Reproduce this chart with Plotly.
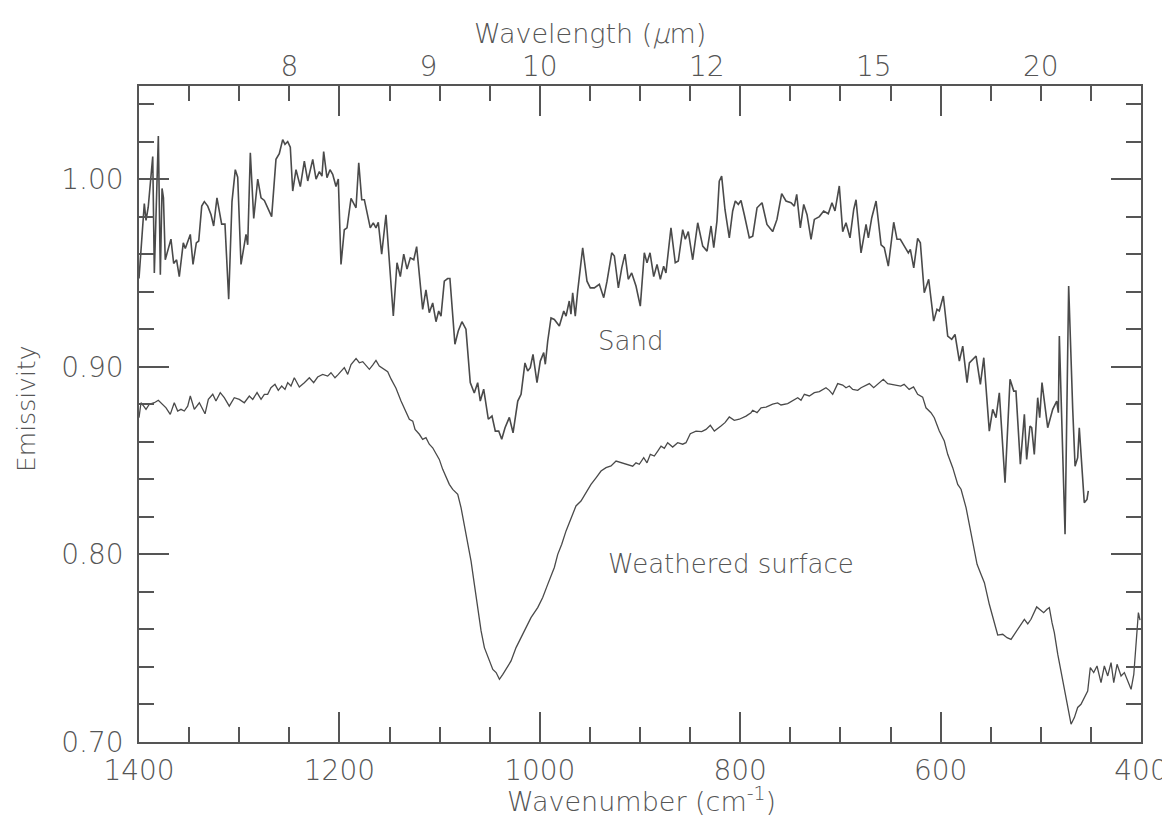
import plotly.graph_objects as go

# ---------------- data ----------------
sand_wavenumber = [
    1400, 1394.7, 1393, 1390.8, 1386.3, 1384.7, 1380.7, 1378.7, 1377, 1375.6, 1373.8, 1371.4, 1368.1, 1365.4,
    1362.5, 1359.8, 1355.8, 1353.8, 1351.4, 1348.8, 1346.1, 1342.8, 1340.4, 1337.4, 1334.8, 1331.4, 1328.1,
    1325.5, 1322.2, 1319.9, 1317.5, 1314.2, 1310.5, 1307.2, 1303.9, 1301.5, 1298.2, 1293.2, 1291.5, 1288.9,
    1285.5, 1281.5, 1278.2, 1274.9, 1271.6, 1267.6, 1263.3, 1260, 1256.6, 1254.3, 1251.6, 1249, 1246.6, 1243.3,
    1239, 1235, 1231.6, 1226.6, 1223.3, 1220, 1217.4, 1215.7, 1212.4, 1209.4, 1206.7, 1203.4, 1201.1, 1198.4,
    1195.1, 1192.4, 1188.4, 1185.7, 1183.4, 1180.7, 1177.7, 1175.1, 1171.8, 1169.2, 1166.2, 1163.5, 1161.2,
    1157.8, 1153.5,
    1146.2, 1142.5, 1139.2, 1135.8, 1132.5, 1129.2, 1125.8, 1122.9, 1116.9, 1113.6, 1110.3, 1106.9, 1103.6,
    1100.9, 1098.6, 1095.3, 1092, 1089.7, 1084.7, 1081.4, 1077.7, 1073.7, 1069.4, 1065.4, 1062, 1059.4, 1056,
    1051.4, 1047.7, 1044.4, 1041, 1038, 1034.7, 1030.4, 1026.7, 1022, 1018.7, 1014.8, 1012.1, 1009.5, 1006.8,
    1002.8, 999.5, 996.1, 994.5, 992.1, 988.8, 985.5, 980.5, 976.1, 973.8, 970.6, 968.9, 967.2, 964.6, 962.2,
    957.2, 952.9, 949.6, 945.6, 940.6, 936.2, 932.9, 928.2, 925.6, 921.6, 918.2, 915, 911.7, 908.3, 904, 899.7,
    895.7, 893, 890, 886.3, 883, 879.7, 876.4, 874.1, 869.1, 864.8, 861.8, 857.4, 854.8, 851.8, 847.4, 842.4,
    837.4, 833.1, 829.1, 826.4, 823.2, 820.9, 818.5, 815.2, 810.9, 807.5, 804.9, 801.9, 799.2, 795.9, 790.9,
    787.5, 783.2, 778.2, 773.3, 767.6, 763.3, 758.6, 754.3, 749.3, 746, 743.6, 740, 736.6, 733.3, 729.3, 726,
    721, 716.7, 712.1, 708.4, 705.4, 701.1, 697.7, 694.4, 690.4, 686.7, 684.4, 679.4, 674.4, 672.1, 668.7,
    664.4, 659.4, 656.2, 652.2,
    646.8, 643.5, 640.2, 636.2, 632.2, 630.2, 626.8, 622.9, 620.2, 616.3, 611.9, 606.9, 603.6, 601.3, 597.3,
    592.9, 588.9, 585.6, 581.3, 577.9, 573.6, 571.3, 567.9, 564.6, 560.3, 556.9, 551.4, 548, 544.7, 541.4,
    535.7, 530.7, 527, 524.8, 520.4, 516.4, 514.1, 510.8, 509.1, 506.5, 503.1, 501.1, 498.8, 493.1, 488.1,
    484.1, 482.5, 481.5, 475.8, 472.2, 468.2, 465.8, 463.2, 461.6, 456.6, 453.9, 452.6,
]
sand_emissivity = [
    0.947, 0.987, 0.978, 0.985, 1.012, 0.950, 1.023, 0.949, 0.995, 0.990, 0.957, 0.962, 0.968, 0.955,
    0.957, 0.948, 0.966, 0.963, 0.967, 0.9705, 0.9545, 0.966, 0.967, 0.9856, 0.988, 0.9856, 0.981,
    0.975, 0.990, 0.983, 0.976, 0.976, 0.936, 0.988, 1.005, 1.001, 0.9545, 0.9705, 0.965, 1.014,
    0.979, 1.000, 0.990, 0.9886, 0.9847, 0.980, 1.0105, 1.0135, 1.021, 1.0185, 1.020, 1.017, 0.9936, 1.005,
    0.996, 1.0096, 0.999, 1.0105, 1.000, 1.004, 1.0016, 1.0146, 1.0007, 1.005, 1.0025, 0.996, 1.000, 0.9545,
    0.973, 0.974, 0.9897, 0.987, 0.9847, 1.0087, 0.989, 0.989, 0.980, 0.974, 0.9767, 0.974, 0.977,
    0.960, 0.981,
    0.927, 0.9554, 0.948, 0.960, 0.952, 0.958, 0.957, 0.964, 0.9306, 0.941, 0.9288, 0.934, 0.924,
    0.9297, 0.927, 0.9456, 0.947, 0.947, 0.912, 0.919, 0.924, 0.920, 0.8915, 0.886, 0.8915, 0.8817, 0.888,
    0.872, 0.8737, 0.8657, 0.8657, 0.8613, 0.8675, 0.873, 0.8648, 0.8817, 0.8853, 0.902, 0.8977, 0.8995, 0.9066,
    0.8915, 0.903, 0.9075, 0.9013, 0.9137, 0.926, 0.9252, 0.9217, 0.9297, 0.927, 0.935, 0.928, 0.9394, 0.927, 0.9403,
    0.9634, 0.9456, 0.942, 0.942, 0.9439, 0.9368, 0.9456, 0.9607, 0.959, 0.942, 0.9527, 0.960, 0.9466, 0.950, 0.943, 0.9323,
    0.9607, 0.9554, 0.9607, 0.948, 0.9545, 0.9466, 0.9536, 0.950, 0.974, 0.9554, 0.9563, 0.973, 0.9679, 0.972, 0.957, 0.9767,
    0.9643, 0.9616, 0.975, 0.9634, 0.9776, 0.9989, 1.0016, 0.9838, 0.9687, 0.983, 0.9883, 0.9865, 0.9886, 0.981, 0.9687,
    0.9696, 0.9847, 0.9874, 0.9758, 0.972, 0.9785, 0.9922, 0.9883, 0.9874, 0.9856, 0.9918, 0.974, 0.9865, 0.981, 0.9679, 0.9785,
    0.980, 0.983, 0.9815, 0.9874, 0.983, 0.9963, 0.972, 0.9767, 0.9687, 0.9838, 0.989, 0.9607, 0.9758, 0.9687, 0.9794,
    0.9883, 0.965, 0.9634, 0.9536,
    0.977, 0.9679, 0.9679, 0.9643, 0.9607, 0.9625, 0.9527, 0.9684, 0.966, 0.9394, 0.9466, 0.9243, 0.9306, 0.9297, 0.9377,
    0.9163, 0.9146, 0.9172, 0.903, 0.911, 0.8915, 0.902, 0.9039, 0.9057, 0.8906, 0.9048, 0.8657, 0.8773, 0.8728, 0.8861,
    0.8382, 0.8933, 0.887, 0.887, 0.848, 0.8746, 0.8506, 0.8684, 0.8675, 0.8533, 0.8835, 0.8728, 0.8915, 0.8675, 0.8773,
    0.8817, 0.8755, 0.9163, 0.8107, 0.943, 0.8781, 0.847, 0.8515, 0.8675, 0.8275, 0.8293, 0.8338,
]

weathered_wavenumber = [
    1400, 1398, 1395.3, 1393, 1389.7, 1384.7, 1380.7, 1376.3, 1373, 1368.8, 1364.8, 1361.4, 1358.1, 1354.8,
    1351.4, 1348.8, 1344.8, 1339.8, 1337.1, 1334.1, 1330.8, 1326.4, 1323.2, 1318.9, 1314.9, 1309.9, 1304.9,
    1299.9, 1294.9, 1289.9, 1286.5, 1282.2, 1278.2, 1274.9, 1271.6, 1268.3, 1264.3, 1261, 1257.6, 1254.3,
    1251.6, 1248.3, 1245, 1240, 1235, 1230, 1225.7, 1221.7, 1216.7, 1211.7, 1208.4, 1204.4, 1201.1, 1198.4,
    1195.1, 1191.7, 1188.4, 1183.4, 1180.1, 1176.7, 1170.1, 1166.8, 1163.5, 1160.2, 1155.2, 1151.8, 1148.5,
    1143.5, 1138.5,
    1133.5, 1130.2, 1126.8, 1124.5, 1120.2, 1116.9, 1113.6, 1110.3, 1106.9, 1103.6, 1100.3, 1096.9, 1093.6,
    1090.3, 1086.9, 1081.9, 1078.6, 1073.6, 1068.6, 1065.3, 1061.9, 1058.6, 1055.3, 1050.3, 1046.9, 1043.6,
    1040.3, 1036.9, 1033.7, 1028.7, 1023.7, 1018.7, 1013.8, 1008.8, 1002.1, 997.1, 992.1, 988.8, 985.5, 982.1,
    978.1, 973.8, 968.9, 963.9, 958.9, 953.9, 948.9, 943.9, 938.9, 933.9, 928.9, 923.9, 918.9, 912.2, 907.3,
    904, 900.7, 896.3, 893, 889.7, 885.7, 882.3, 879, 875.7, 872.4, 867.4, 862.4, 857.4, 854.1, 849.8, 844.1,
    838.4, 834.1, 829.8, 825.8, 819.2, 815.2, 810.9, 805.9, 800.9, 794.2, 789.2, 787.5, 783.2, 779.2, 774.2,
    767.6, 762.6, 759.3, 752.6, 747.6, 742.6, 739.3, 736, 731, 726, 721, 717.6, 714.4, 711.1, 707.7, 702.7,
    697.7, 694.4, 691.1, 687.7, 682.7, 679.4, 676.1, 671.1, 666.8, 662.8, 657.2, 652.8, 647.8,
    639.8, 636.4, 631.4, 627, 622.9, 617.9, 614.6, 609.6, 606.3, 601.3, 596.3, 592.9, 587.9, 582.9, 579.6,
    574.6, 571.3, 567.9, 563.6, 559.7, 556.3, 551.4, 547, 543, 538, 533.7, 529.7, 526.4, 521.4, 516.4, 513,
    509.8, 504.1, 500.5, 497.1, 493.8, 491.5, 488.8, 486.5, 483.1, 479.8, 476.5, 473.1, 469.8, 466.5, 463.2,
    459.9, 456.6, 453.2, 450.6, 447.2, 443.9, 439.9, 436.6, 433.2, 429.9, 427.2, 423.9, 419.9, 416.6, 413.2,
    409.9, 407.2, 404.9, 402.6, 401,
]
weathered_emissivity = [
    0.8728, 0.8808, 0.879, 0.8773, 0.880, 0.8808, 0.8821, 0.880, 0.8781, 0.8746, 0.8808, 0.8764, 0.8773, 0.8764,
    0.879, 0.8844, 0.8773, 0.8808, 0.8781, 0.8749, 0.8826, 0.8853, 0.8817, 0.8862, 0.8835, 0.879, 0.8835,
    0.8826, 0.8808, 0.8844, 0.8826, 0.8862, 0.8826, 0.8853, 0.8853, 0.8888, 0.8906, 0.8874, 0.8897, 0.8879,
    0.8915, 0.8897, 0.8941, 0.8892, 0.8915, 0.8941, 0.8915, 0.8945, 0.8959, 0.895, 0.8968, 0.8941, 0.8959, 0.8973,
    0.8995, 0.8959, 0.9012, 0.9044, 0.9021, 0.9027, 0.8986, 0.9009, 0.9034, 0.9004, 0.8986, 0.8973, 0.8935,
    0.8885, 0.8817,
    0.8755, 0.872, 0.871, 0.8666, 0.864, 0.8613, 0.8622, 0.8587, 0.8568, 0.8533, 0.8506, 0.8453, 0.8408,
    0.8373, 0.8346, 0.832, 0.8249, 0.8107, 0.7964, 0.784, 0.7716, 0.7592, 0.7503, 0.7432, 0.7387, 0.737,
    0.7334, 0.736, 0.7387, 0.7432, 0.7503, 0.7556, 0.761, 0.7663, 0.7716, 0.777, 0.784, 0.7885, 0.793, 0.800,
    0.8054, 0.8125, 0.8196, 0.8258, 0.8284, 0.8328, 0.8373, 0.8408, 0.8444, 0.8462, 0.8471, 0.8497, 0.8488, 0.848, 0.847,
    0.8488, 0.848, 0.8515, 0.8488, 0.8533, 0.8524, 0.855, 0.8577, 0.8565, 0.8595, 0.8572, 0.8595, 0.8587, 0.8595, 0.8643, 0.8657,
    0.8654, 0.8666, 0.8688, 0.8657, 0.8684, 0.8702, 0.8732, 0.8714, 0.872, 0.8737, 0.8755, 0.8768, 0.8755, 0.8781, 0.8785,
    0.880, 0.8807, 0.8796, 0.8803, 0.882, 0.8835, 0.8821, 0.8853, 0.8844, 0.8862, 0.8867, 0.8879, 0.8888, 0.8874, 0.8853, 0.891,
    0.8902, 0.8888, 0.8897, 0.8879, 0.8874, 0.8888, 0.8897, 0.891, 0.8888, 0.8906, 0.8933, 0.891, 0.8906,
    0.8897, 0.8906, 0.8879, 0.8892, 0.8853, 0.8838, 0.8781, 0.8755, 0.8728, 0.8657, 0.8604, 0.8533, 0.8462, 0.8373, 0.8347,
    0.8249, 0.816, 0.8054, 0.7947, 0.7894, 0.7849, 0.7734, 0.7645, 0.757, 0.7574, 0.7556, 0.7547, 0.7574, 0.761, 0.7654, 0.763,
    0.7654, 0.772, 0.7702, 0.7689, 0.7707, 0.7716, 0.7636, 0.7583, 0.7468, 0.737, 0.7273, 0.7184, 0.7095, 0.713, 0.7184,
    0.7201, 0.724, 0.7272, 0.7396, 0.737, 0.7405, 0.7316, 0.7405, 0.7352, 0.7423, 0.7316, 0.7414, 0.7352, 0.737, 0.7325,
    0.7281, 0.736, 0.7556, 0.769, 0.765,
]

wavelength_ticks_um = [8, 9, 10, 12, 15, 20]
x_range = [1400, 400]
y_range = [0.70, 1.0496]

# ---------------- style ----------------
INK = "#555555"
FONT = "DejaVu Sans Light, DejaVu Sans, sans-serif"

fig = go.Figure()
fig.add_trace(go.Scatter(x=sand_wavenumber, y=sand_emissivity, mode="lines",
                         line=dict(color="#4a4a4a", width=1.6), showlegend=False, hoverinfo="skip"))
fig.add_trace(go.Scatter(x=weathered_wavenumber, y=weathered_emissivity, mode="lines",
                         line=dict(color="#4a4a4a", width=1.3), showlegend=False, hoverinfo="skip"))
# empty traces so that the overlay axes exist
fig.add_trace(go.Scatter(x=[None], y=[None], xaxis="x2", yaxis="y", showlegend=False, hoverinfo="skip"))
fig.add_trace(go.Scatter(x=[None], y=[None], xaxis="x3", yaxis="y", showlegend=False, hoverinfo="skip"))
fig.add_trace(go.Scatter(x=[None], y=[None], xaxis="x", yaxis="y2", showlegend=False, hoverinfo="skip"))

tickfont = dict(family=FONT, size=28, color=INK)
common_x = dict(range=x_range, autorange=False, showgrid=False, zeroline=False, linecolor=INK, linewidth=1.5,
                tickcolor=INK, tickwidth=1.5, automargin=False)
minor_x = dict(ticks="inside", ticklen=15, dtick=50, tick0=400, tickcolor=INK, tickwidth=1.5, showgrid=False)
minor_y = dict(ticks="inside", ticklen=15, dtick=0.02, tick0=0.7, tickcolor=INK, tickwidth=1.5, showgrid=False)

# the page body adds a ~7 px offset, margins compensate for it
fig.update_layout(
    width=1170, height=817,
    margin=dict(l=131, r=37, t=78, b=83, pad=0, autoexpand=False),
    paper_bgcolor="white", plot_bgcolor="white",
    font=dict(family=FONT, color=INK),
    xaxis=dict(**common_x, showline=True, side="bottom", ticks="inside", ticklen=30,
               tick0=400, dtick=200, tickfont=tickfont, ticklabelstandoff=3, minor=minor_x),
    xaxis2=dict(range=x_range, autorange=False, overlaying="x", side="top", anchor="y", showgrid=False,
                zeroline=False, showline=False, ticks="", automargin=False, ticklabelstandoff=3,
                tickvals=[1e4 / w for w in wavelength_ticks_um],
                ticktext=[str(w) for w in wavelength_ticks_um], tickfont=tickfont),
    xaxis3=dict(**common_x, overlaying="x", side="top", anchor="y", showline=True, ticks="inside",
                ticklen=30, tick0=400, dtick=200, showticklabels=False, minor=minor_x),
    yaxis=dict(range=y_range, autorange=False, showgrid=False, zeroline=False, showline=True, linecolor=INK,
               linewidth=1.5, ticks="inside", ticklen=30, tickcolor=INK, tickwidth=1.5, tick0=0.7, dtick=0.1,
               tickformat=".2f", tickfont=tickfont, automargin=False, ticklabelstandoff=8, minor=minor_y),
    yaxis2=dict(range=y_range, autorange=False, overlaying="y", side="right", anchor="x", showgrid=False,
                zeroline=False, showline=True, linecolor=INK, linewidth=1.5, ticks="inside", ticklen=30,
                tickcolor=INK, tickwidth=1.5, tick0=0.7, dtick=0.1, showticklabels=False, automargin=False,
                minor=minor_y),
)

fig.add_annotation(text="Wavelength (<i>μ</i>m)", xref="paper", yref="paper", x=0.450, y=1.0793,
                   xanchor="center", yanchor="middle", showarrow=False,
                   font=dict(family=FONT, size=27, color=INK))
fig.add_annotation(text="Wavenumber (cm<sup>-1</sup>)", xref="paper", yref="paper", x=0.501, y=-0.088,
                   xanchor="center", yanchor="middle", showarrow=False,
                   font=dict(family=FONT, size=27, color=INK))
fig.add_annotation(text="Emissivity", xref="paper", yref="paper", x=-0.1128, y=0.5076, textangle=-90,
                   xanchor="center", yanchor="middle", showarrow=False,
                   font=dict(family=FONT, size=25, color=INK))
fig.add_annotation(text="Sand", x=909, y=0.9137, xref="x", yref="y", showarrow=False,
                   xanchor="center", yanchor="middle", font=dict(family=FONT, size=26, color=INK))
fig.add_annotation(text="Weathered surface", x=809, y=0.795, xref="x", yref="y", showarrow=False,
                   xanchor="center", yanchor="middle", font=dict(family=FONT, size=26, color=INK))

fig.write_html("out.html")
